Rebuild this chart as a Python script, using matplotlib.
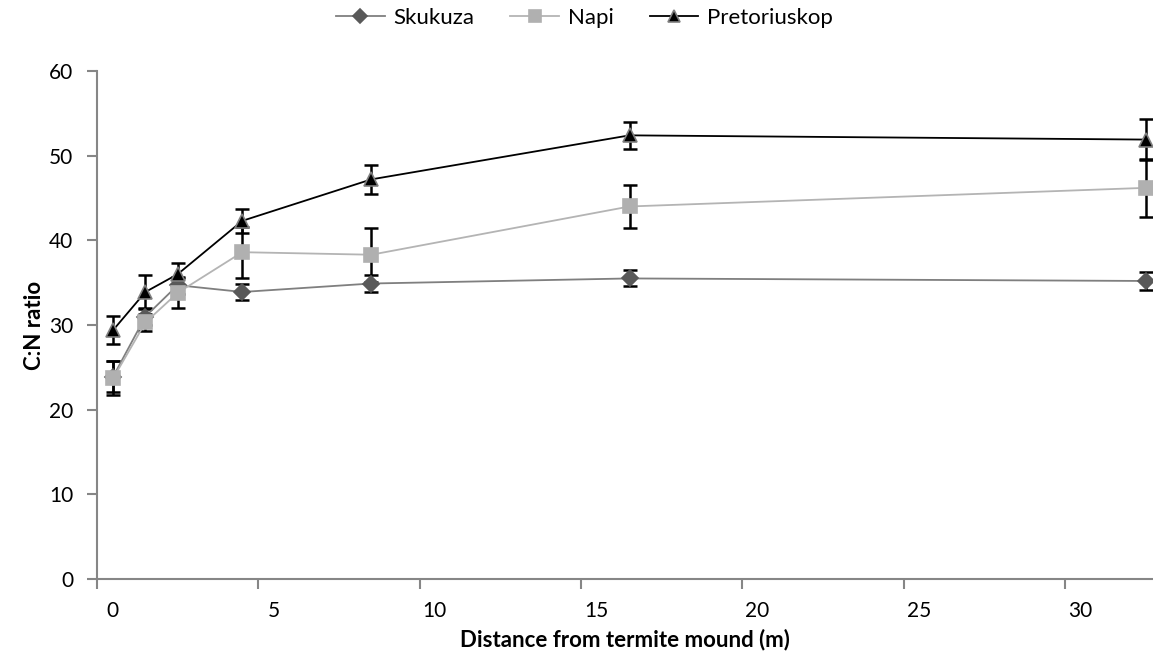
import matplotlib
matplotlib.use("Agg")

import matplotlib.pyplot as plt
from matplotlib.transforms import ScaledTranslation

plt.rcParams['font.family'] = ['Lato', 'DejaVu Sans']

# distancia desde el termitero (m)
distance = [0.5, 1.5, 2.5, 4.5, 8.5, 16.5, 32.5]

skukuza = [23.9, 31.0, 34.7, 33.9, 34.9, 35.5, 35.2]
skukuza_err = [1.8, 1.0, 1.0, 0.9, 1.0, 0.95, 1.05]

napi = [23.7, 30.3, 33.8, 38.6, 38.3, 44.0, 46.2]
napi_err = [2.0, 1.0, 1.8, 3.0, 3.2, 2.55, 3.4]

pretoriuskop = [29.4, 33.9, 36.0, 42.3, 47.2, 52.4, 51.9]
pretoriuskop_err = [1.7, 2.0, 1.3, 1.4, 1.7, 1.6, 2.4]

y_ticks = [0, 10, 20, 30, 40, 50, 60]
x_ticks = [0, 5, 10, 15, 20, 25, 30]

fig = plt.figure(figsize=(11.53, 6.69), dpi=100)
ax = fig.add_axes([97 / 1153, 90 / 669, 1056 / 1153, 508 / 669])

series = [
    ('Skukuza', skukuza, skukuza_err, '#7f7f7f', 'D', '#595959', '#595959', 8),
    ('Napi', napi, napi_err, '#b4b4b4', 's', '#b0b0b0', '#b0b0b0', 10),
    ('Pretoriuskop', pretoriuskop, pretoriuskop_err, 'black', '^', 'black', '#7f7f7f', 10),
]

for name, vals, err, lc, mk, mfc, mec, ms in series:
    ax.errorbar(distance, vals, yerr=err, fmt='none', ecolor='black',
                elinewidth=1.8, capsize=5, capthick=1.8, zorder=2)
    ax.plot(distance, vals, color=lc, lw=1.3, marker=mk, markersize=ms,
            markerfacecolor=mfc, markeredgecolor=mec, markeredgewidth=1.2,
            label=name, zorder=3)

ax.set_xlim(0, 32.72)
ax.set_ylim(0, 60)
ax.set_xticks(x_ticks)
ax.set_yticks(y_ticks)

for s in ['top', 'right']:
    ax.spines[s].set_visible(False)
for s in ['left', 'bottom']:
    ax.spines[s].set_color('#868686')
    ax.spines[s].set_linewidth(1.5)

ax.tick_params(axis='both', direction='out', length=7, width=1.5,
               color='#868686', labelsize=15, labelcolor='black')
ax.tick_params(axis='y', pad=10)
ax.tick_params(axis='x', pad=9)

# etiquetas del eje x desplazadas a la derecha como en el original
offset = ScaledTranslation(15 / 100, 0, fig.dpi_scale_trans)
for lbl in ax.get_xticklabels():
    lbl.set_transform(lbl.get_transform() + offset)

ax.set_xlabel('Distance from termite mound (m)', fontsize=16, fontweight='bold', labelpad=5)
ax.set_ylabel('C:N ratio', fontsize=16, fontweight='bold', labelpad=3)

fig.legend(loc='upper center', bbox_to_anchor=(0.507, 1.018), ncol=3, frameon=False,
           fontsize=16, handlelength=2.2, columnspacing=1.6, handletextpad=0.4,
           markerscale=0.85)

fig.savefig('out.png', dpi=100)
